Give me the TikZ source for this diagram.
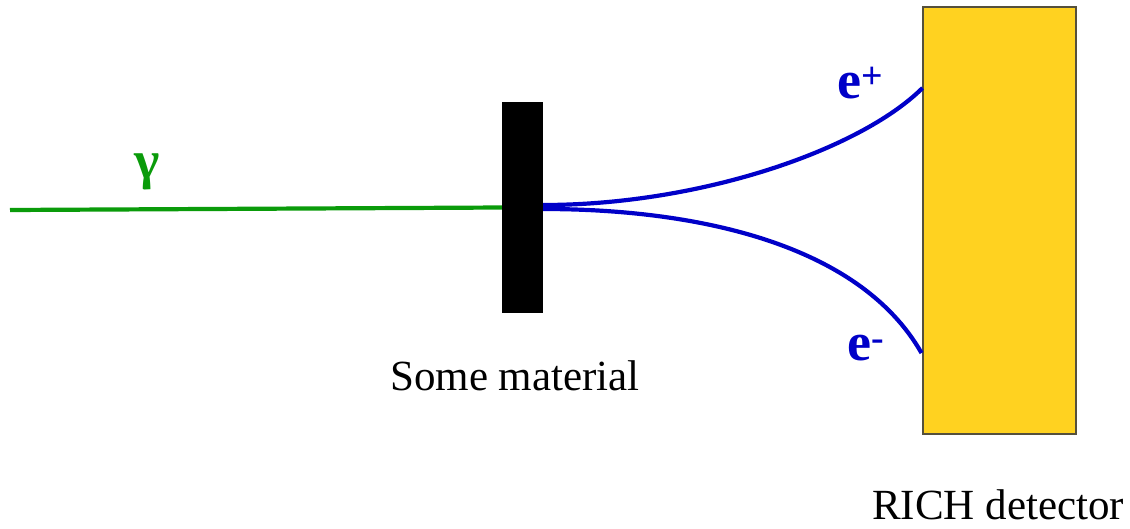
\documentclass[tikz,border=0pt]{standalone}
\usepackage{fontspec}
\setmainfont{Liberation Serif}
\definecolor{photongreen}{RGB}{10,155,10}
\definecolor{pairblue}{RGB}{0,0,200}
\definecolor{richyellow}{RGB}{255,210,32}
\definecolor{richedge}{RGB}{85,80,60}
\tikzset{
  photon/.style={photongreen, line width=4.2pt},
  track/.style={pairblue, line width=4.2pt},
  caption/.style={font=\fontsize{43}{50}\selectfont, anchor=base, inner sep=0pt},
  particle/.style={font=\fontsize{54}{60}\selectfont\bfseries, anchor=base west, inner sep=0pt}
}
\begin{document}
\begin{tikzpicture}[x=1pt, y=-1pt]
  \useasboundingbox (0,0) rectangle (1130,528);

  % RICH detector block on the right
  \node[draw=richedge, line width=1.5pt, fill=richyellow, minimum width=153pt,
        minimum height=427pt, inner sep=0pt] (detector) at (999.5,220.5) {};

  % converter slab
  \node[fill=black, minimum width=41pt, minimum height=211pt, inner sep=0pt]
    (slab) at (522.5,207.5) {};

  % incoming photon
  \coordinate (source) at (10,210);
  \draw[photon] (source) -- (slab.west);
  \node[particle, text=photongreen] (gamma) at (134,178) {γ};

  % e+ e- pair bending towards the detector
  \coordinate (hitplus) at (922.5,88);
  \coordinate (hitminus) at (921.5,353);
  \draw[track] ([yshift=2.5pt]slab.east)
    .. controls (700,205) and (860,150) .. (hitplus);
  \draw[track] ([yshift=-1.5pt]slab.east)
    .. controls (700,209) and (860,245) .. (hitminus);
  \node[particle, text=pairblue] (eplus) at (837,98) {e\textsuperscript{+}};
  \node[particle, text=pairblue] (eminus) at (847,360) {e\textsuperscript{-}};

  % labels
  \node[caption] (material) at (515,390) {Some material};
  \node[caption] (richlabel) at (998,519) {RICH detector};
\end{tikzpicture}
\end{document}
